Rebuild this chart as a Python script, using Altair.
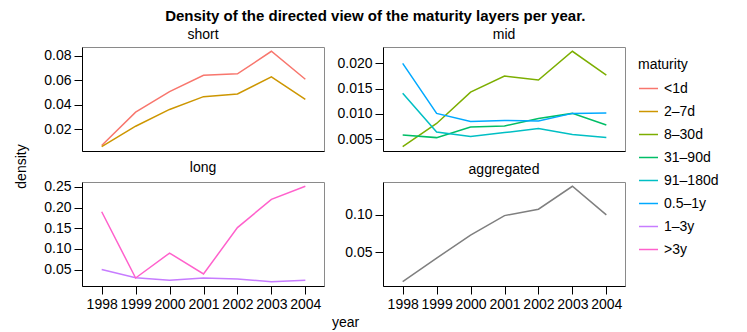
import altair as alt
import pandas as pd

FONT = "Liberation Sans"

years = [1998, 1999, 2000, 2001, 2002, 2003, 2004]
maturities = ["<1d", "2–7d", "8–30d", "31–90d", "91–180d", "0.5–1y", "1–3y", ">3y"]
palette = ["#F8766D", "#CD9600", "#7CAE00", "#00BE67", "#00BFC4", "#00A9FF", "#C77CFF", "#FF61CC"]

# series values
short_lt1d = [0.0068, 0.0340, 0.0507, 0.0641, 0.0652, 0.0836, 0.0608]
short_2_7d = [0.0058, 0.0225, 0.0362, 0.0466, 0.0488, 0.0627, 0.0444]
mid_8_30d = [0.0035, 0.0081, 0.0143, 0.0175, 0.0167, 0.0224, 0.0177]
mid_31_90d = [0.0058, 0.0053, 0.0074, 0.0076, 0.0091, 0.0101, 0.0078]
mid_91_180d = [0.0141, 0.0064, 0.0055, 0.0063, 0.0071, 0.0059, 0.0053]
mid_05_1y = [0.0200, 0.0101, 0.0085, 0.0087, 0.0086, 0.0101, 0.0102]
long_1_3y = [0.0500, 0.0305, 0.0240, 0.0297, 0.0272, 0.0207, 0.0240]
long_gt3y = [0.1900, 0.0297, 0.0900, 0.0394, 0.1516, 0.2200, 0.2516]
aggregated = [0.0100, 0.0418, 0.0727, 0.0991, 0.1077, 0.1386, 0.1000]

# axis tick labels
short_ticks = [0.02, 0.04, 0.06, 0.08]
mid_ticks = [0.005, 0.010, 0.015, 0.020]
long_ticks = [0.05, 0.10, 0.15, 0.20, 0.25]
agg_ticks = [0.05, 0.10]

PW, PH = 242, 104
X_DOMAIN = [1997.42, 2004.55]
EXPAND = 0.045
FS = 14


def frame(series):
    rows = []
    for name, vals in series:
        for y, v in zip(years, vals):
            rows.append({"year": y, "density": v, "maturity": name})
    return pd.DataFrame(rows)


def ydomain(df):
    lo, hi = df["density"].min(), df["density"].max()
    pad = (hi - lo) * EXPAND
    return [lo - pad, hi + pad]


color_enc = alt.Color(
    "maturity:N",
    scale=alt.Scale(domain=maturities, range=palette),
    legend=alt.Legend(
        title="maturity",
        orient="none",
        legendX=556,
        legendY=11,
        symbolType="stroke",
        symbolSize=361,
        symbolStrokeWidth=1.5,
        labelOffset=5,
        rowPadding=5,
        titlePadding=6,
        padding=0,
    ),
)


def panel(df, title, ticks, fmt, bottom, color, ytitle=None, xtitle=None):
    xaxis = dict(values=years, format="d", labels=bottom, ticks=bottom, title=None)
    if xtitle:
        xaxis.update(title=xtitle, titleX=263, titleY=36, titleBaseline="middle",
                     titleAlign="center", titleAnchor="start")
    yaxis = dict(values=ticks, format=fmt, title=None)
    if ytitle:
        yaxis.update(title=ytitle, titleX=-61, titleY=119, titleAngle=270,
                     titleBaseline="middle", titleAlign="center", titleAnchor="start")
    return (
        alt.Chart(df, title=alt.TitleParams(title, fontSize=FS, fontWeight="normal",
                                            font=FONT, offset=5, color="black"))
        .mark_line(strokeWidth=1.5)
        .encode(
            x=alt.X("year:Q", scale=alt.Scale(domain=X_DOMAIN, nice=False, zero=False),
                    axis=alt.Axis(**xaxis)),
            y=alt.Y("density:Q", scale=alt.Scale(domain=ydomain(df), nice=False, zero=False),
                    axis=alt.Axis(**yaxis)),
            color=color,
        )
        .properties(width=PW, height=PH)
    )


df_short = frame([("<1d", short_lt1d), ("2–7d", short_2_7d)])
df_mid = frame([("8–30d", mid_8_30d), ("31–90d", mid_31_90d),
                ("91–180d", mid_91_180d), ("0.5–1y", mid_05_1y)])
df_long = frame([("1–3y", long_1_3y), (">3y", long_gt3y)])
df_agg = frame([("aggregated", aggregated)])

p1 = panel(df_short, "short", short_ticks, ".2f", False, color_enc, ytitle="density")
p2 = panel(df_mid, "mid", mid_ticks, ".3f", False, color_enc)
p3 = panel(df_long, "long", long_ticks, ".2f", True, color_enc, xtitle="year")
p4 = panel(df_agg, "aggregated", agg_ticks, ".2f", True, alt.value("#7F7F7F"))

chart = (
    alt.concat(p1, p2, p3, p4, columns=2, spacing={"row": 31, "column": 59}, bounds="flush")
    .properties(
        title=alt.TitleParams(
            "Density of the directed view of the maturity layers per year.",
            fontSize=15, fontWeight="bold", font=FONT, anchor="middle", dx=9,
            offset=4, color="black",
        ),
        padding={"left": 5, "right": 5, "top": 0, "bottom": 0},
    )
    .configure_view(stroke="#8a8a8a", strokeWidth=1)
    .configure_axis(
        labelFont=FONT, labelFontSize=FS, labelColor="black",
        titleFont=FONT, titleFontSize=FS, titleFontWeight="normal", titleColor="black",
        tickColor="black", tickSize=8, tickWidth=1,
        domainColor="black", domainWidth=1, grid=False, labelPadding=3,
    )
    .configure_legend(
        labelFont=FONT, labelFontSize=FS, labelColor="black",
        titleFont=FONT, titleFontSize=FS, titleFontWeight="normal", titleColor="black",
    )
)

chart.save("out.html", embed_options={"renderer": "svg", "actions": False})
